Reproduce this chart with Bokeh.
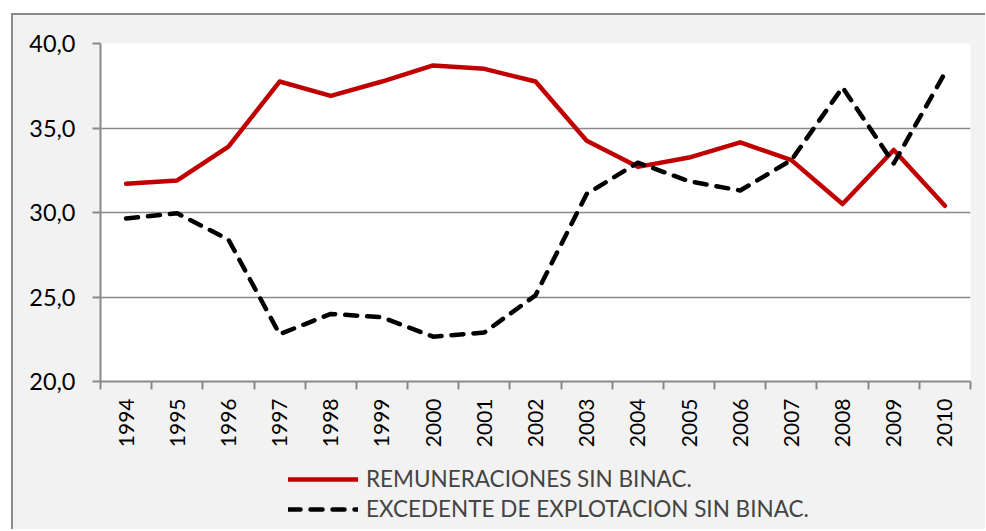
from bokeh.plotting import figure
from bokeh.layouts import column
from bokeh.models import Range1d, FixedTicker, Legend, LegendItem
from bokeh.embed import file_html
from bokeh.resources import INLINE

years = [1994, 1995, 1996, 1997, 1998, 1999, 2000, 2001, 2002, 2003,
         2004, 2005, 2006, 2007, 2008, 2009, 2010]
remuneraciones = [31.7, 31.9, 33.9, 37.75, 36.9, 37.75, 38.7, 38.5, 37.75, 34.25,
                  32.7, 33.25, 34.15, 33.1, 30.5, 33.7, 30.4]
excedente = [29.65, 29.95, 28.4, 22.8, 24.0, 23.8, 22.65, 22.9, 25.1, 31.1,
             32.95, 31.85, 31.3, 33.1, 37.4, 32.9, 38.25]
y_ticks = [20, 25, 30, 35, 40]
y_tick_labels = ["20,0", "25,0", "30,0", "35,0", "40,0"]
series_names = ["REMUNERACIONES SIN BINAC.", "EXCEDENTE DE EXPLOTACION SIN BINAC."]

FONT = "Lato"
GRAY = "#898989"
BG = "#f2f2f2"
RED = "#c00000"
LW = 4.5
DASH = "12 10"

p = figure(frame_width=870, frame_height=338,
           output_backend="svg", toolbar_location=None,
           x_range=Range1d(years[0] - 0.5, years[-1] + 0.5),
           y_range=Range1d(20, 40))
p.min_border_left = 87
p.min_border_right = 15
p.min_border_top = 28
p.min_border_bottom = 78
p.background_fill_color = "white"
p.border_fill_color = BG
p.outline_line_color = None

# x axis
xa = p.xaxis[0]
xa.ticker = FixedTicker(ticks=years, minor_ticks=[y - 0.5 for y in years] + [years[-1] + 0.5])
xa.major_tick_line_color = None
xa.major_tick_out = 0
xa.major_tick_in = 0
xa.minor_tick_line_color = GRAY
xa.minor_tick_line_width = 2
xa.minor_tick_out = 8
xa.minor_tick_in = 0
xa.axis_line_color = GRAY
xa.axis_line_width = 2
xa.major_label_orientation = 1.5707963
xa.major_label_standoff = 9
xa.major_label_text_font = FONT
xa.major_label_text_font_size = "21px"
xa.major_label_text_color = "black"

# y axis
ya = p.yaxis[0]
ya.ticker = FixedTicker(ticks=y_ticks)
ya.major_label_overrides = dict(zip(y_ticks, y_tick_labels))
ya.minor_tick_line_color = None
ya.major_tick_line_color = GRAY
ya.major_tick_line_width = 2
ya.major_tick_out = 8
ya.major_tick_in = 0
ya.axis_line_color = GRAY
ya.axis_line_width = 2
ya.major_label_standoff = 17
ya.major_label_text_font = FONT
ya.major_label_text_font_size = "23.5px"
ya.major_label_text_color = "black"

p.xgrid.grid_line_color = None
p.ygrid.ticker = FixedTicker(ticks=y_ticks)
p.ygrid.grid_line_color = GRAY
p.ygrid.grid_line_width = 1.5

p.line(years, remuneraciones, line_color=RED, line_width=LW,
       line_join="round", line_cap="round")
p.line(years, excedente, line_color="black", line_width=LW,
       line_dash=DASH, line_join="round", line_cap="round")

# legend strip below the chart
lg = figure(frame_width=870, frame_height=70,
            output_backend="svg", toolbar_location=None,
            x_range=Range1d(0, 1), y_range=Range1d(0, 1))
lg.min_border_left = 87
lg.min_border_right = 15
lg.min_border_top = 0
lg.min_border_bottom = 0
lg.background_fill_color = BG
lg.border_fill_color = BG
lg.outline_line_color = None
lg.axis.visible = False
lg.grid.visible = False

# legend-only renderers, kept outside the visible range
d1 = lg.line([5, 6], [5, 5], line_color=RED, line_width=LW, line_cap="round")
d2 = lg.line([5, 6], [5, 5], line_color="black", line_width=LW,
             line_dash=DASH, line_cap="round")

legend = Legend(items=[LegendItem(label=series_names[0], renderers=[d1]),
                       LegendItem(label=series_names[1], renderers=[d2])],
                location=(188, 7), orientation="vertical",
                label_text_font=FONT, label_text_font_size="22.5px",
                glyph_width=70, glyph_height=24, label_height=24,
                label_standoff=8, spacing=3, padding=0, margin=0,
                background_fill_alpha=0, border_line_color=None)
lg.add_layout(legend, "center")

layout = column(p, lg, spacing=0)
layout.margin = (13, 0, 0, 11)
layout.styles = {"border-left": "2px solid #898989", "border-top": "2px solid #898989",
                 "background-color": BG}
open("out.html", "w").write(file_html(layout, INLINE))
